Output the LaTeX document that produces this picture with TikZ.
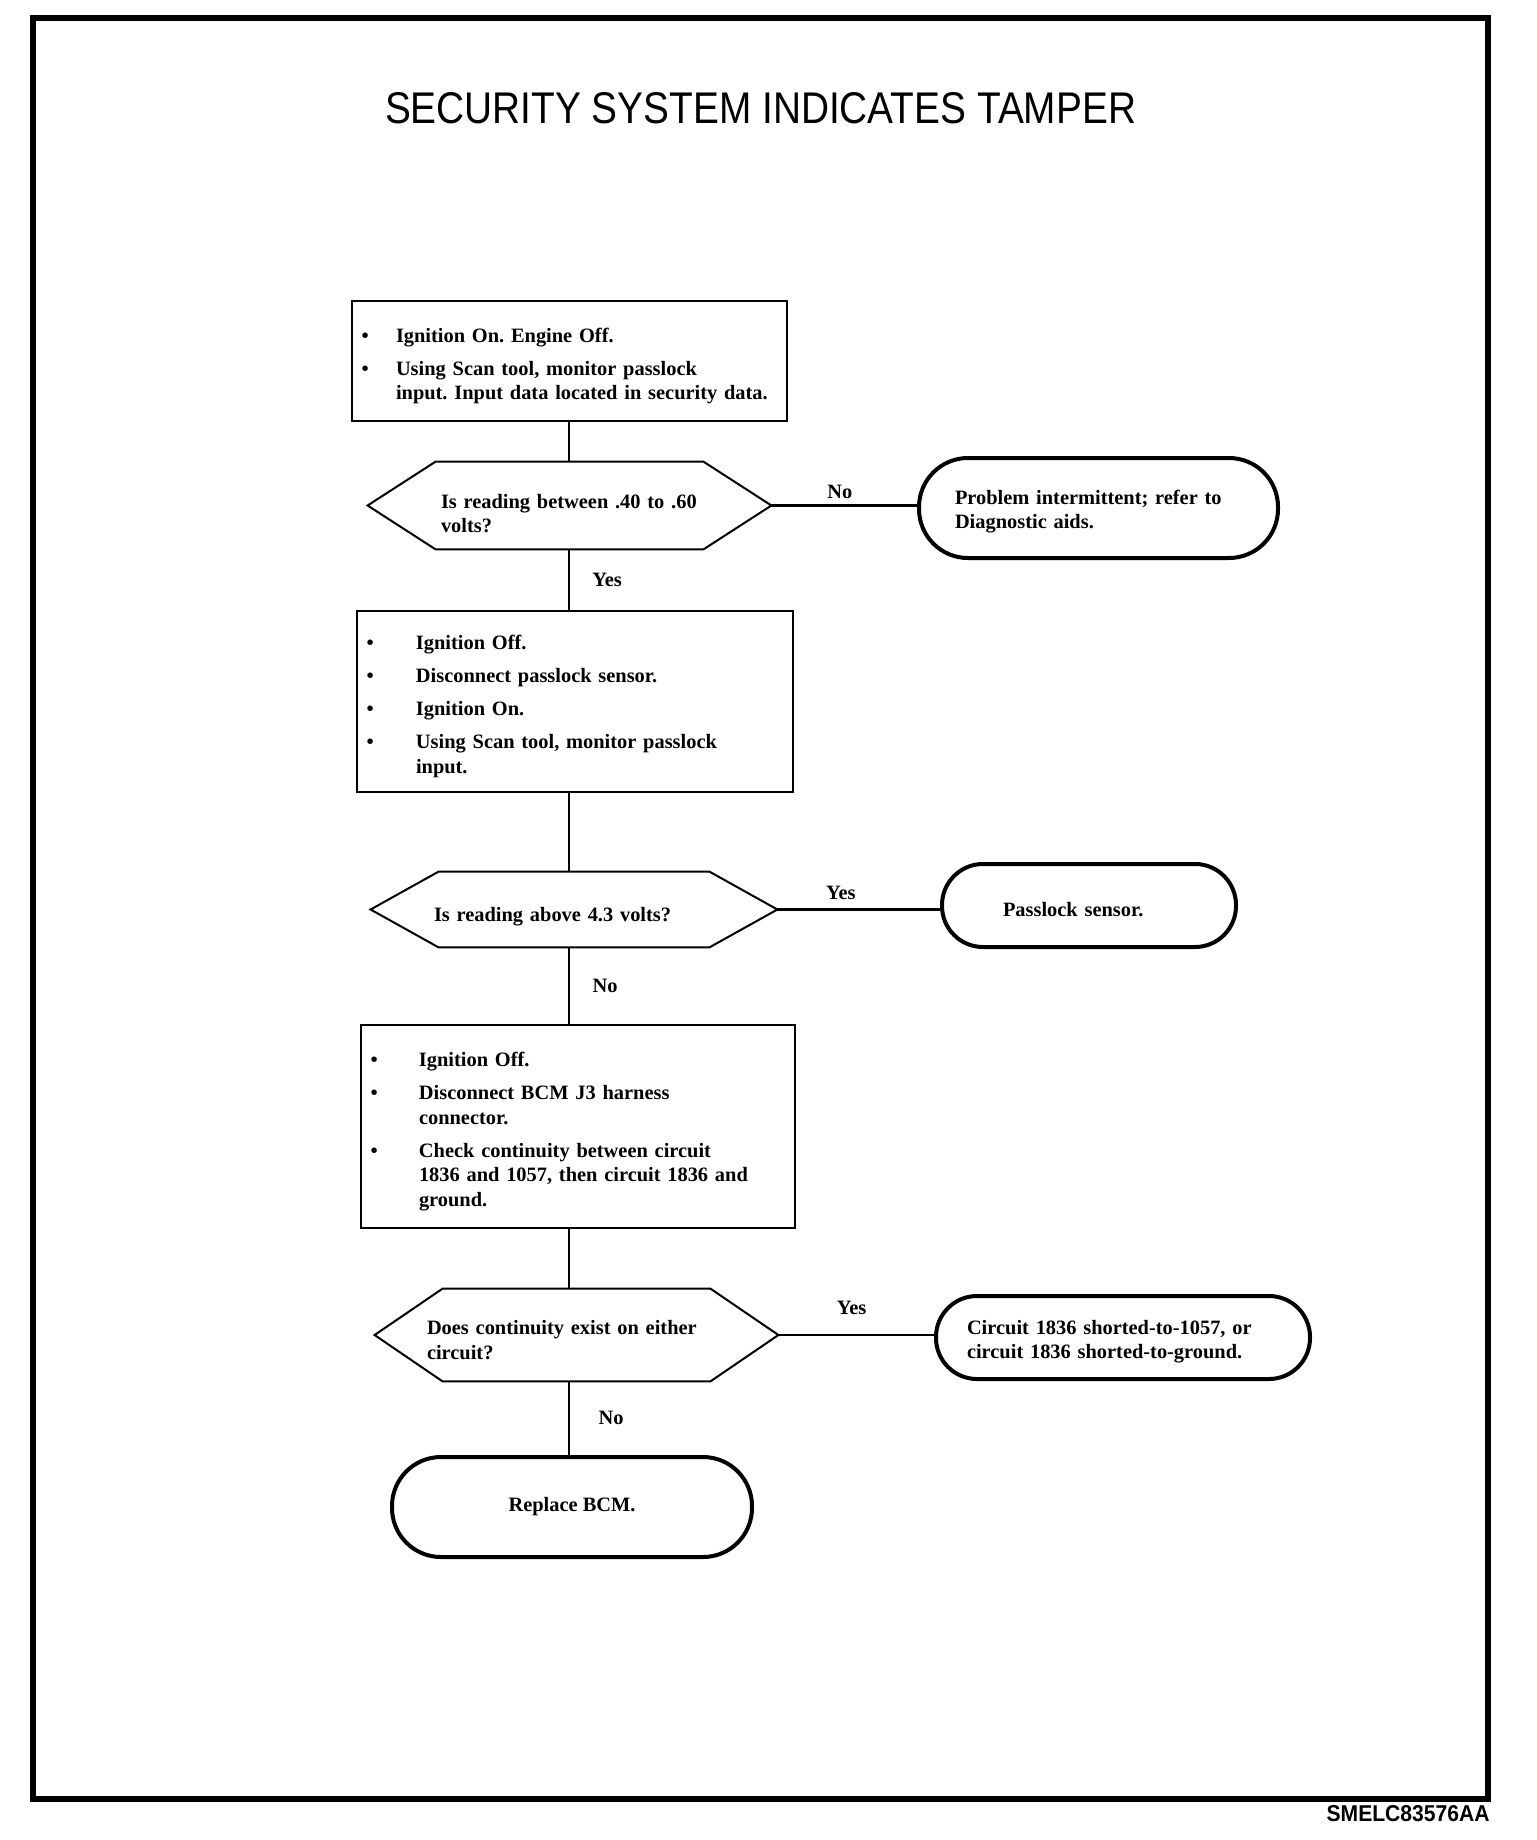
\documentclass[tikz,border=0pt]{standalone}
\usepackage{fontspec}
\setmainfont{Liberation Serif}
\newfontfamily\sansf{Liberation Sans}
\usetikzlibrary{calc}
\setlength{\parindent}{0pt}
\frenchspacing
\newcommand{\txt}{\fontsize{10.2pt}{12.25pt}\selectfont\bfseries\frenchspacing}
\newcommand{\itm}[2]{\par\noindent\makebox[#1][l]{\hspace{4.75pt}\textbullet}#2}
\newcommand{\cont}[2]{\par\noindent\hspace*{#1}#2}
\newcommand{\gap}{\par\vspace{4.25pt}}
\newcommand{\dn}[1]{\rule{0pt}{#1}}
\begin{document}
\begin{tikzpicture}[x=0.5pt,y=-0.5pt,
  every node/.style={font=\txt},
  frame/.style={line width=3.2pt},
  box/.style={draw, line width=1pt, rectangle, inner xsep=0pt, inner ysep=0pt, align=left},
  hexa/.style={rectangle, inner ysep=0pt, align=left},
  hexline/.style={line width=1pt, line join=miter},
  term/.style={draw, line width=2pt, inner ysep=0pt, align=left},
  conn/.style={line width=1.2pt},
  lab/.style={inner sep=0pt}]
\useasboundingbox (0,0) rectangle (1536,1840);
\draw[frame] (33,18) rectangle (1488,1799);
\node[inner sep=0pt] (ttl) at (760.5,108.5) {\resizebox{375.5pt}{15.5pt}{\sansf\mdseries SECURITY SYSTEM INDICATES TAMPER}};
\node[anchor=north east, inner sep=0pt] (code) at (1490,1805) {\resizebox{81.5pt}{8pt}{\sansf\bfseries SMELC83576AA}};
\coordinate (spine) at (569,0);
% step 1
\node[box, minimum height=60pt, text width=217.5pt] (b1) at (569.5,361)
  {\itm{22pt}{Ignition On. Engine Off.}\gap\itm{22pt}{Using Scan tool, monitor passlock}\cont{22pt}{input. Input data located in security data.}};
% decision 1
\node[hexa, minimum width=201.5pt, minimum height=43.5pt, inner xsep=36.5pt, text width=128.5pt] (d1) at (569.5,505.5)
  {\dn{15pt}\mbox{Is reading between .40 to .60}\\\mbox{volts?}};
\draw[hexline] (d1.west) -- ($(d1.north west)+(68,0)$) -- ($(d1.north east)+(-68,0)$) -- (d1.east) -- ($(d1.south east)+(-68,0)$) -- ($(d1.south west)+(68,0)$) -- cycle;
\node[term, rounded corners=24.5pt, minimum width=179.5pt, minimum height=50pt, inner xsep=18pt, text width=143.5pt] (e1) at (1098.5,508)
  {\dn{10.5pt}\mbox{Problem intermittent; refer to}\\\mbox{Diagnostic aids.}};
% step 2
\node[box, minimum height=90.5pt, text width=218pt] (b2) at (575,701.5)
  {\itm{29.5pt}{Ignition Off.}\gap\itm{29.5pt}{Disconnect passlock sensor.}\gap\itm{29.5pt}{Ignition On.}\gap\itm{29.5pt}{Using Scan tool, monitor passlock}\cont{29.5pt}{input.}};
% decision 2
\node[hexa, minimum width=203pt, minimum height=37.5pt, inner xsep=31.5pt, text width=140pt] (d2) at (574,909.5)
  {\dn{14pt}\mbox{Is reading above 4.3 volts?}};
\draw[hexline] (d2.west) -- ($(d2.north west)+(68,0)$) -- ($(d2.north east)+(-68,0)$) -- (d2.east) -- ($(d2.south east)+(-68,0)$) -- ($(d2.south west)+(68,0)$) -- cycle;
\node[term, rounded corners=20.5pt, minimum width=147pt, minimum height=41.5pt, inner xsep=30.5pt, text width=86pt] (e2) at (1089,905.5)
  {\dn{11.5pt}\mbox{Passlock sensor.}};
% step 3
\node[box, minimum height=101.5pt, text width=217pt] (b3) at (578,1126.5)
  {\itm{29pt}{Ignition Off.}\gap\itm{29pt}{Disconnect BCM J3 harness}\cont{29pt}{connector.}\gap\itm{29pt}{Check continuity between circuit}\cont{29pt}{1836 and 1057, then circuit 1836 and}\cont{29pt}{ground.}};
% decision 3
\node[hexa, minimum width=201.5pt, minimum height=46pt, inner xsep=26pt, text width=149.5pt] (d3) at (576.5,1335)
  {\dn{12pt}\mbox{Does continuity exist on either}\\\mbox{circuit?}};
\draw[hexline] (d3.west) -- ($(d3.north west)+(68,0)$) -- ($(d3.north east)+(-68,0)$) -- (d3.east) -- ($(d3.south east)+(-68,0)$) -- ($(d3.south west)+(68,0)$) -- cycle;
\node[term, rounded corners=20.5pt, minimum width=187pt, minimum height=41.5pt, inner xsep=15.5pt, text width=156pt] (e3) at (1123,1337.5)
  {\dn{11pt}\mbox{Circuit 1836 shorted-to-1057, or}\\\mbox{circuit 1836 shorted-to-ground.}};
\node[term, rounded corners=24.5pt, minimum width=180pt, minimum height=50pt, align=center] (e4) at (572,1507)
  {Replace BCM.};
% connectors
\draw[conn] (b1.south -| spine) -- (d1.north -| spine);
\draw[conn] (d1.south -| spine) -- node[lab, xshift=19pt] {Yes} (b2.north -| spine);
\draw[conn] (d1.east) -- node[lab, pos=0.47, yshift=6.75pt] {No} (d1.east -| e1.west);
\draw[conn] (b2.south -| spine) -- (d2.north -| spine);
\draw[conn] (d2.south -| spine) -- node[lab, xshift=18pt] {No} (b3.north -| spine);
\draw[conn] (d2.east) -- node[lab, pos=0.39, yshift=8.25pt] {Yes} (d2.east -| e2.west);
\draw[conn] (b3.south -| spine) -- (d3.north -| spine);
\draw[conn] (d3.south -| spine) -- node[lab, xshift=21pt] {No} (e4.north -| spine);
\draw[conn] (d3.east) -- node[lab, pos=0.47, yshift=13.5pt] {Yes} (d3.east -| e3.west);
\end{tikzpicture}
\end{document}
